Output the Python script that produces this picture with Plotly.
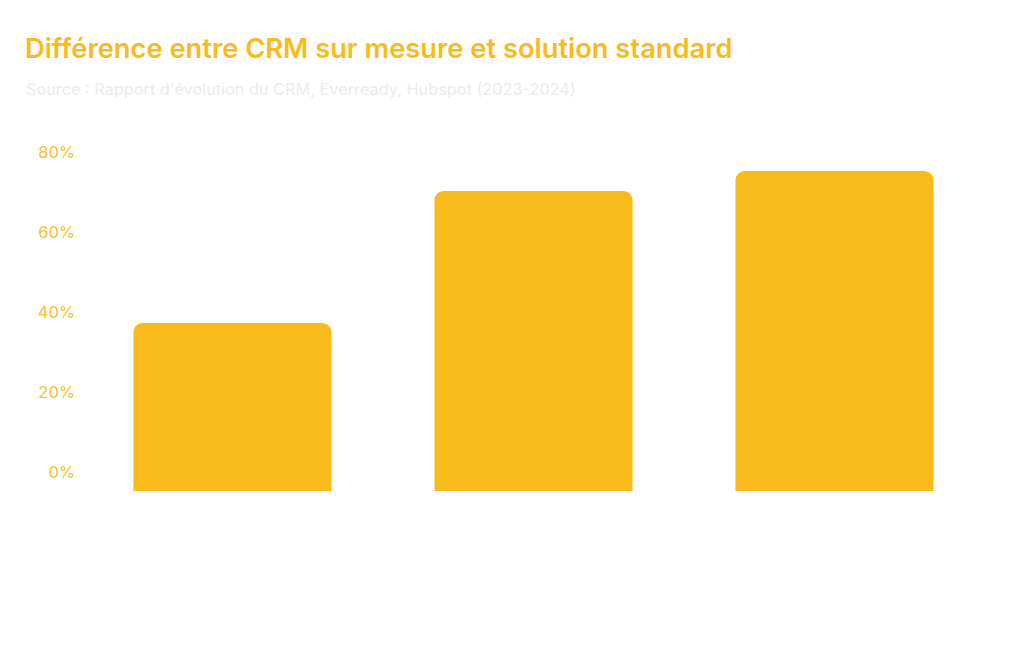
import plotly.graph_objects as go

categories = ["A", "B", "C"]
values = [42, 75, 80]
tick_vals = [0, 20, 40, 60, 80]
tick_text = ["0%", "20%", "40%", "60%", "80%"]

title_text = "Différence entre CRM sur mesure et solution standard"
subtitle_text = "Source : Rapport d'évolution du CRM, Everready, Hubspot (2023-2024)"

W, H = 1024, 670
OFF = 8  # page body margin
L, R, T, B = 82 - OFF, 39 + OFF, 171 - OFF, 179 + OFF

fig = go.Figure(go.Bar(
    x=categories, y=values,
    marker=dict(color="#F8BB1B", cornerradius=9, line=dict(width=0)),
    hoverinfo="skip",
))

fig.update_layout(
    width=W, height=H,
    margin=dict(l=L, r=R, t=T, b=B),
    paper_bgcolor="white", plot_bgcolor="white",
    bargap=0.342,
    showlegend=False,
    font=dict(family="Inter, Roboto, sans-serif"),
    title=dict(
        text=title_text,
        font=dict(family="Inter, sans-serif", size=27.3, color="#F8BB1B", weight=600),
        xref="container", yref="container",
        x=(25 - OFF) / W, xanchor="left",
        y=1 - (48 - OFF) / H, yanchor="middle",
    ),
    annotations=[dict(
        text=subtitle_text,
        xref="paper", yref="paper",
        x=(24 - OFF - L) / (W - L - R), xanchor="left",
        y=(H - B - (89 - OFF)) / (H - T - B), yanchor="middle",
        showarrow=False,
        font=dict(family="Inter, sans-serif", size=16.3, color="#EBEBEB"),
    )],
    xaxis=dict(showticklabels=False, showgrid=False, zeroline=False, showline=False, ticks=""),
    yaxis=dict(
        range=[0, 80],
        tickvals=tick_vals, ticktext=tick_text,
        showgrid=False, zeroline=False, showline=False, ticks="",
        ticklabelshift=-19, ticklabelstandoff=6,
        tickfont=dict(family="Inter, sans-serif", size=16.5, color="#F8BE2E"),
    ),
)

fig.write_html("out.html")
